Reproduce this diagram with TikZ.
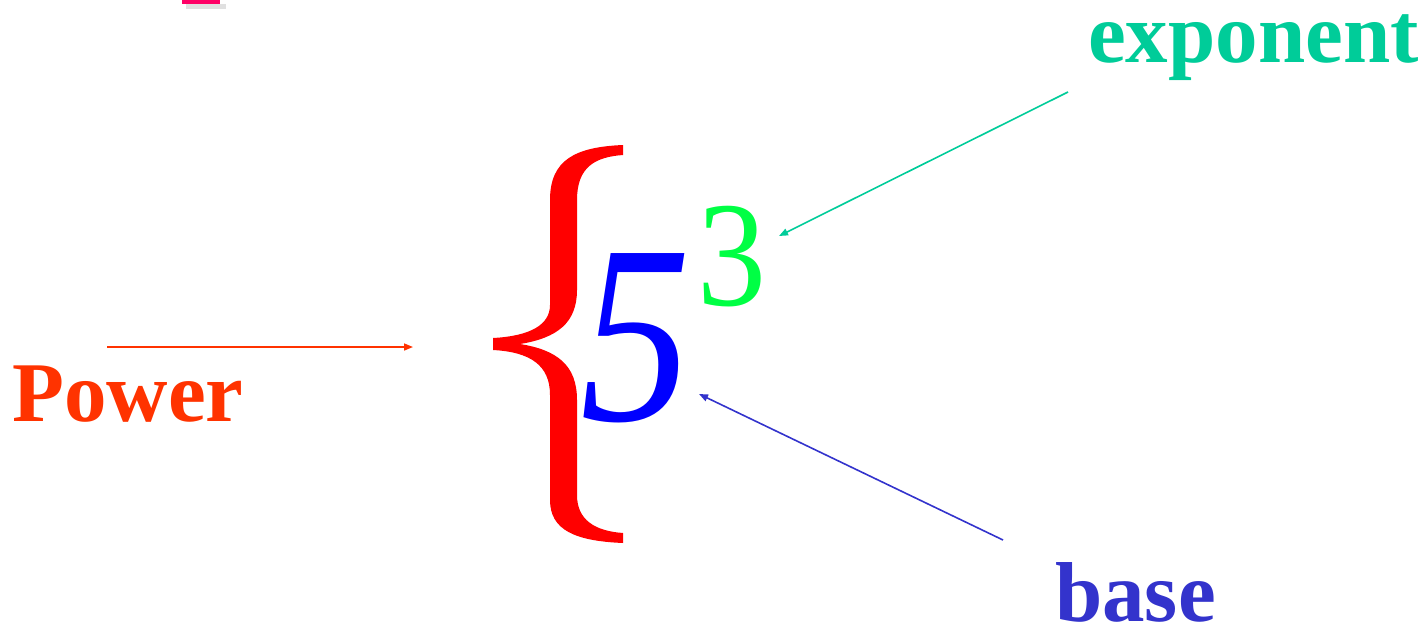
\documentclass[tikz,border=0pt]{standalone}
\usepackage{fontspec}
\setmainfont{Liberation Serif}
\usetikzlibrary{arrows.meta}
\definecolor{powerc}{HTML}{FF3300}
\definecolor{expc}{HTML}{00CC99}
\definecolor{basec}{HTML}{3333CC}
\definecolor{fivec}{HTML}{0000FF}
\definecolor{threec}{HTML}{00FF44}
\definecolor{bracec}{HTML}{FF0000}
\definecolor{pinkc}{HTML}{FF0066}
\tikzset{
  lbl/.style={inner sep=0pt, anchor=base west, font=\fontsize{85}{100}\selectfont\bfseries},
  conn/.style={line width=1.6pt, -{Triangle[length=9pt,width=7pt]}, shorten >=0pt}
}
\begin{document}
\begin{tikzpicture}[x=1pt,y=-1pt]
\useasboundingbox (0,0) rectangle (1424,627);
% pink partial bar at top
\fill[black!12] (186,4) rectangle (226,9);
\fill[pinkc] (182,0) rectangle (220,4);
% labels
\node[lbl, text=powerc] (power) at (12,421) {Power};
\node[lbl, text=expc] (expo) at (1088,62) {exponent};
\node[lbl, text=basec] (base) at (1055,621) {base};
% digits
\node[inner sep=0pt, anchor=base, text=fivec, font=\fontsize{255}{260}\selectfont\itshape] (five) at (636,420) {\scalebox{0.87}[1]{5}};
\node[inner sep=0pt, anchor=base, text=threec, font=\fontsize{150}{160}\selectfont] (three) at (732,305) {\scalebox{0.92}[1]{3}};
% brace
\fill[bracec] (623,145)
  .. controls (575,147) and (550,160) .. (550,200)
  -- (550,305)
  .. controls (550,325) and (530,336) .. (493,338)
  -- (493,350)
  .. controls (530,352) and (550,365) .. (550,395)
  -- (550,500)
  .. controls (550,530) and (575,541) .. (623,543)
  -- (623,533)
  .. controls (595,531) and (577,520) .. (577,495)
  -- (577,400)
  .. controls (577,365) and (557,350) .. (520,344)
  .. controls (557,338) and (577,323) .. (577,290)
  -- (577,200)
  .. controls (577,167) and (595,157) .. (623,155)
  -- cycle;
% arrows
\coordinate (pA) at (107,347);
\coordinate (pB) at (413,347);
\coordinate (eA) at (1068,92);
\coordinate (eB) at (779,236);
\coordinate (bA) at (1003,540);
\coordinate (bB) at (699,394);
\draw[conn, powerc] (pA) -- (pB);
\draw[conn, expc] (eA) -- (eB);
\draw[conn, basec] (bA) -- (bB);
\end{tikzpicture}
\end{document}
